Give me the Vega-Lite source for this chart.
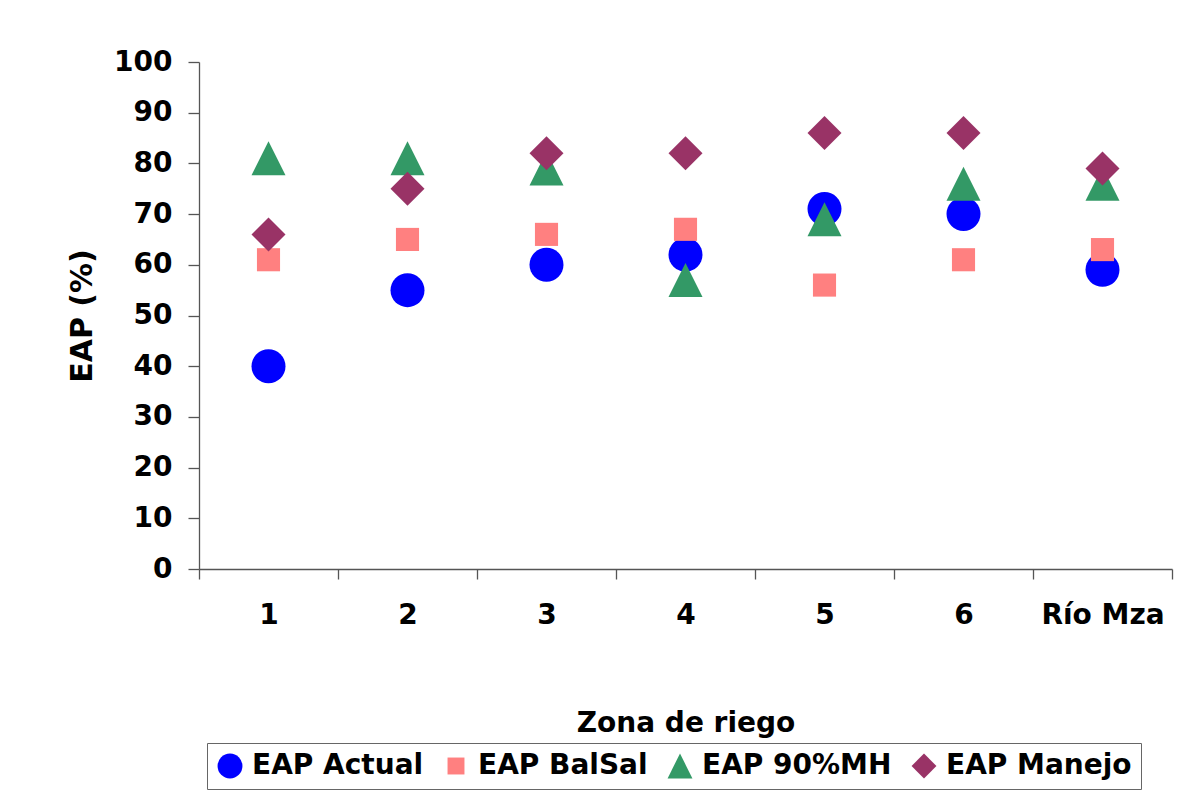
{
  "$schema": "https://vega.github.io/schema/vega-lite/v6.json",
  "autosize": "none",
  "padding": {"left": 199, "top": 62, "right": 11, "bottom": 229},
  "width": 973,
  "height": 507,
  "background": "white",
  "config": {
    "view": {"stroke": null},
    "font": "DejaVu Sans",
    "axis": {
      "labelFont": "DejaVu Sans", "labelFontWeight": "bold", "labelFontSize": 28, "labelColor": "black",
      "titleFont": "DejaVu Sans", "titleFontWeight": "bold", "titleFontSize": 28, "titleColor": "black",
      "domainColor": "#555555", "tickColor": "#555555", "domainWidth": 1.3, "tickWidth": 1.3, "grid": false
    },
    "legend": {
      "labelFont": "DejaVu Sans", "labelFontWeight": "bold", "labelFontSize": 28, "labelColor": "black"
    }
  },
  "data": {
    "values": [
      {"zona": "1", "serie": "EAP Actual", "eap": 40},
      {"zona": "2", "serie": "EAP Actual", "eap": 55},
      {"zona": "3", "serie": "EAP Actual", "eap": 60},
      {"zona": "4", "serie": "EAP Actual", "eap": 62},
      {"zona": "5", "serie": "EAP Actual", "eap": 71},
      {"zona": "6", "serie": "EAP Actual", "eap": 70},
      {"zona": "Río Mza", "serie": "EAP Actual", "eap": 59},
      {"zona": "1", "serie": "EAP BalSal", "eap": 61},
      {"zona": "2", "serie": "EAP BalSal", "eap": 65},
      {"zona": "3", "serie": "EAP BalSal", "eap": 66},
      {"zona": "4", "serie": "EAP BalSal", "eap": 67},
      {"zona": "5", "serie": "EAP BalSal", "eap": 56},
      {"zona": "6", "serie": "EAP BalSal", "eap": 61},
      {"zona": "Río Mza", "serie": "EAP BalSal", "eap": 63},
      {"zona": "1", "serie": "EAP 90%MH", "eap": 81},
      {"zona": "2", "serie": "EAP 90%MH", "eap": 81},
      {"zona": "3", "serie": "EAP 90%MH", "eap": 79},
      {"zona": "4", "serie": "EAP 90%MH", "eap": 57},
      {"zona": "5", "serie": "EAP 90%MH", "eap": 69},
      {"zona": "6", "serie": "EAP 90%MH", "eap": 76},
      {"zona": "Río Mza", "serie": "EAP 90%MH", "eap": 76},
      {"zona": "1", "serie": "EAP Manejo", "eap": 66},
      {"zona": "2", "serie": "EAP Manejo", "eap": 75},
      {"zona": "3", "serie": "EAP Manejo", "eap": 82},
      {"zona": "4", "serie": "EAP Manejo", "eap": 82},
      {"zona": "5", "serie": "EAP Manejo", "eap": 86},
      {"zona": "6", "serie": "EAP Manejo", "eap": 86},
      {"zona": "Río Mza", "serie": "EAP Manejo", "eap": 79}
    ]
  },
  "mark": {"type": "point", "filled": true, "opacity": 1, "size": 1156},
  "encoding": {
    "x": {
      "field": "zona", "type": "nominal", "sort": null,
      "scale": {"type": "band", "paddingInner": 0, "paddingOuter": 0},
      "axis": {"title": "Zona de riego", "labelAngle": 0, "tickBand": "extent", "tickSize": 10, "labelPadding": 22, "titlePadding": 80}
    },
    "y": {
      "field": "eap", "type": "quantitative",
      "scale": {"domain": [0, 100], "nice": false},
      "axis": {"title": "EAP (%)", "titleFontSize": 30, "values": [0,10,20,30,40,50,60,70,80,90,100], "tickSize": 11, "labelPadding": 16, "titlePadding": 16}
    },
    "color": {
      "field": "serie", "type": "nominal", "sort": null,
      "scale": {"domain": ["EAP Actual", "EAP BalSal", "EAP 90%MH", "EAP Manejo"], "range": ["#0000FF", "#FF8080", "#339966", "#993366"]},
      "legend": {
        "title": null, "orient": "none", "legendX": 8, "legendY": 681, "direction": "horizontal", "columns": 4,
        "strokeColor": "#666666", "padding": 9, "symbolSize": 620, "labelOffset": 8, "columnPadding": 18,
        "symbolStrokeWidth": 0, "labelLimit": 0
      }
    },
    "shape": {
      "field": "serie", "type": "nominal", "sort": null,
      "scale": {"domain": ["EAP Actual", "EAP BalSal", "EAP 90%MH", "EAP Manejo"], "range": ["circle", "M-0.68,-0.68L0.68,-0.68L0.68,0.68L-0.68,0.68Z", "M0,-1L1,1L-1,1Z", "diamond"]}
    }
  }
}
